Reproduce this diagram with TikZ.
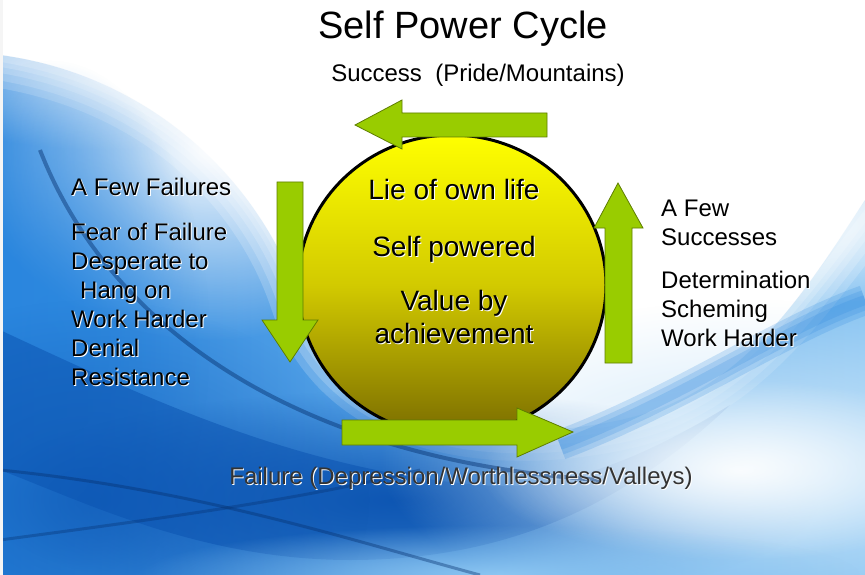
\documentclass[tikz,border=0pt]{standalone}
\usepackage{fontspec}
\setmainfont{Liberation Sans}
\usetikzlibrary{fadings,shapes.geometric}
\definecolor{leaf}{HTML}{99CC00}
\definecolor{leafline}{HTML}{5E7D00}
\definecolor{sunTop}{HTML}{FFFF00}
\definecolor{sunMid}{HTML}{D2CA00}
\definecolor{sunBot}{HTML}{7A6C00}
\definecolor{bluA}{HTML}{2A86DE}
\definecolor{bluB}{HTML}{8CC6F2}
\definecolor{bluL}{HTML}{CFE8FA}
\definecolor{bluD}{HTML}{0A52B0}
\definecolor{bluN}{HTML}{05306E}
\tikzfading[name=glow, inner color=transparent!0, outer color=transparent!100]
\newcommand{\shd}[1]{\rlap{\kern1pt\raisebox{-1pt}{\textcolor{white}{#1}}}#1}
\tikzset{
  note/.style={font=\fontsize{24}{29}\selectfont, inner sep=0pt},
  inner/.style={font=\fontsize{28}{33}\selectfont, inner sep=0pt},
  head/.style={font=\fontsize{38}{44}\selectfont, inner sep=0pt},
  blockarrow/.style={fill=leaf, draw=leafline, line width=0.8pt},
  ball/.style={ellipse, draw=black, line width=3pt, inner sep=0pt,
    minimum width=308pt, minimum height=300pt,
    top color=sunTop, bottom color=sunBot, middle color=sunMid},
}
\begin{document}
\begin{tikzpicture}[x=1pt,y=-1pt]
  \useasboundingbox (0,0) rectangle (865,575);
  \fill[white] (0,0) rectangle (865,575);
  \shade[left color=bluA, right color=bluB]
    (0,55) .. controls (150,75) and (260,180) .. (300,300)
    .. controls (340,420) and (480,450) .. (620,420)
    .. controls (740,395) and (800,300) .. (865,200)
    -- (865,575) -- (0,575) -- cycle;
  \foreach \w in {60,45,30,18,8}
    \draw[white, opacity=.18, line width=\w pt]
      (-20,55) .. controls (150,75) and (260,180) .. (300,300)
      .. controls (340,420) and (480,450) .. (620,420)
      .. controls (740,395) and (800,300) .. (885,190);
  \fill[white, path fading=glow, opacity=.95] (210,150) ellipse (240 and 190);
  \fill[white, path fading=glow, opacity=.6] (110,80) ellipse (220 and 70);
  \fill[bluA, path fading=glow, opacity=.8] (50,340) ellipse (160 and 280);
  \fill[bluD, opacity=.5] (0,330) .. controls (150,400) and (300,470) .. (480,485)
    .. controls (560,492) and (640,460) .. (730,405)
    .. controls (620,510) and (500,560) .. (350,560)
    .. controls (200,560) and (80,500) .. (0,470) -- cycle;
  \fill[bluD, path fading=glow, opacity=.9] (400,500) ellipse (420 and 110);
  \fill[bluD, path fading=glow, opacity=.6] (90,500) ellipse (280 and 200);
  \fill[bluL, path fading=glow] (760,460) ellipse (380 and 160);
  \fill[white, path fading=glow, opacity=.9] (740,470) ellipse (260 and 90);
  \fill[white, path fading=glow, opacity=.8] (770,225) ellipse (300 and 80);
  \fill[bluB, path fading=glow] (500,575) ellipse (360 and 50);
  \draw[bluN, line width=4pt, opacity=.45] (40,150) .. controls (110,330) and (300,460) .. (600,480);
  \draw[bluN, line width=3pt, opacity=.4] (0,470) .. controls (200,490) and (350,540) .. (480,575);
  \draw[bluN, line width=3pt, opacity=.35] (0,540) .. controls (150,520) and (300,500) .. (420,470);
  \foreach \w in {30,20,10}
    \draw[bluA, line width=\w pt, opacity=.2] (560,445) .. controls (680,400) and (780,330) .. (865,300);
  \fill[white!92!gray] (0,0) rectangle (3,575);

  \node[ball] (core) at (452,285) {};

  \fill[blockarrow] (547,113) -- (402,113) -- (402,100) -- (355,125)
    -- (402,149) -- (402,137) -- (547,137) -- cycle;
  \draw[blockarrow] (277,182) -- (303,182) -- (303,320) -- (318,320)
    -- (290,362) -- (262,320) -- (277,320) -- cycle;
  \draw[blockarrow] (605,363) -- (632,363) -- (632,228) -- (643,228)
    -- (618,183) -- (594,228) -- (605,228) -- cycle;
  \draw[blockarrow] (342,420) -- (517,420) -- (517,408) -- (573,432)
    -- (517,457) -- (517,445) -- (342,445) -- cycle;

  \node[head, anchor=base] (title) at (463,39) {Self Power Cycle};
  \node[note, anchor=base] (success) at (478,82) {Success\ \ (Pride/Mountains)};
  \node[note, anchor=base, text=black!80] (failure) at (461,484) {\shd{Failure (Depression/Worthlessness/Valleys)}};

  \node[inner, anchor=base] (lie) at (454,200) {\shd{Lie of own life}};
  \node[inner, anchor=base] (self) at (454,256) {\shd{Self powered}};
  \node[inner, anchor=base] (value) at (454,310) {\shd{Value by}};
  \node[inner, anchor=base] (achieve) at (454,343) {\shd{achievement}};

  \node[note, anchor=base west] (fewfail) at (71,196) {\shd{A Few Failures}};
  \node[note, anchor=base west] (fear) at (71,240) {\shd{Fear of Failure}};
  \node[note, anchor=base west] (desperate) at (71,269) {\shd{Desperate to}};
  \node[note, anchor=base west] (hang) at (80,298) {\shd{Hang on}};
  \node[note, anchor=base west] (harderl) at (71,327) {\shd{Work Harder}};
  \node[note, anchor=base west] (denial) at (71,356) {\shd{Denial}};
  \node[note, anchor=base west] (resist) at (71,385) {\shd{Resistance}};

  \node[note, anchor=base west] (fewsucc) at (661,216) {\shd{A Few}};
  \node[note, anchor=base west] (succs) at (661,245) {\shd{Successes}};
  \node[note, anchor=base west] (determ) at (661,288) {\shd{Determination}};
  \node[note, anchor=base west] (scheme) at (661,317) {\shd{Scheming}};
  \node[note, anchor=base west] (harderr) at (661,346) {\shd{Work Harder}};
\end{tikzpicture}
\end{document}
